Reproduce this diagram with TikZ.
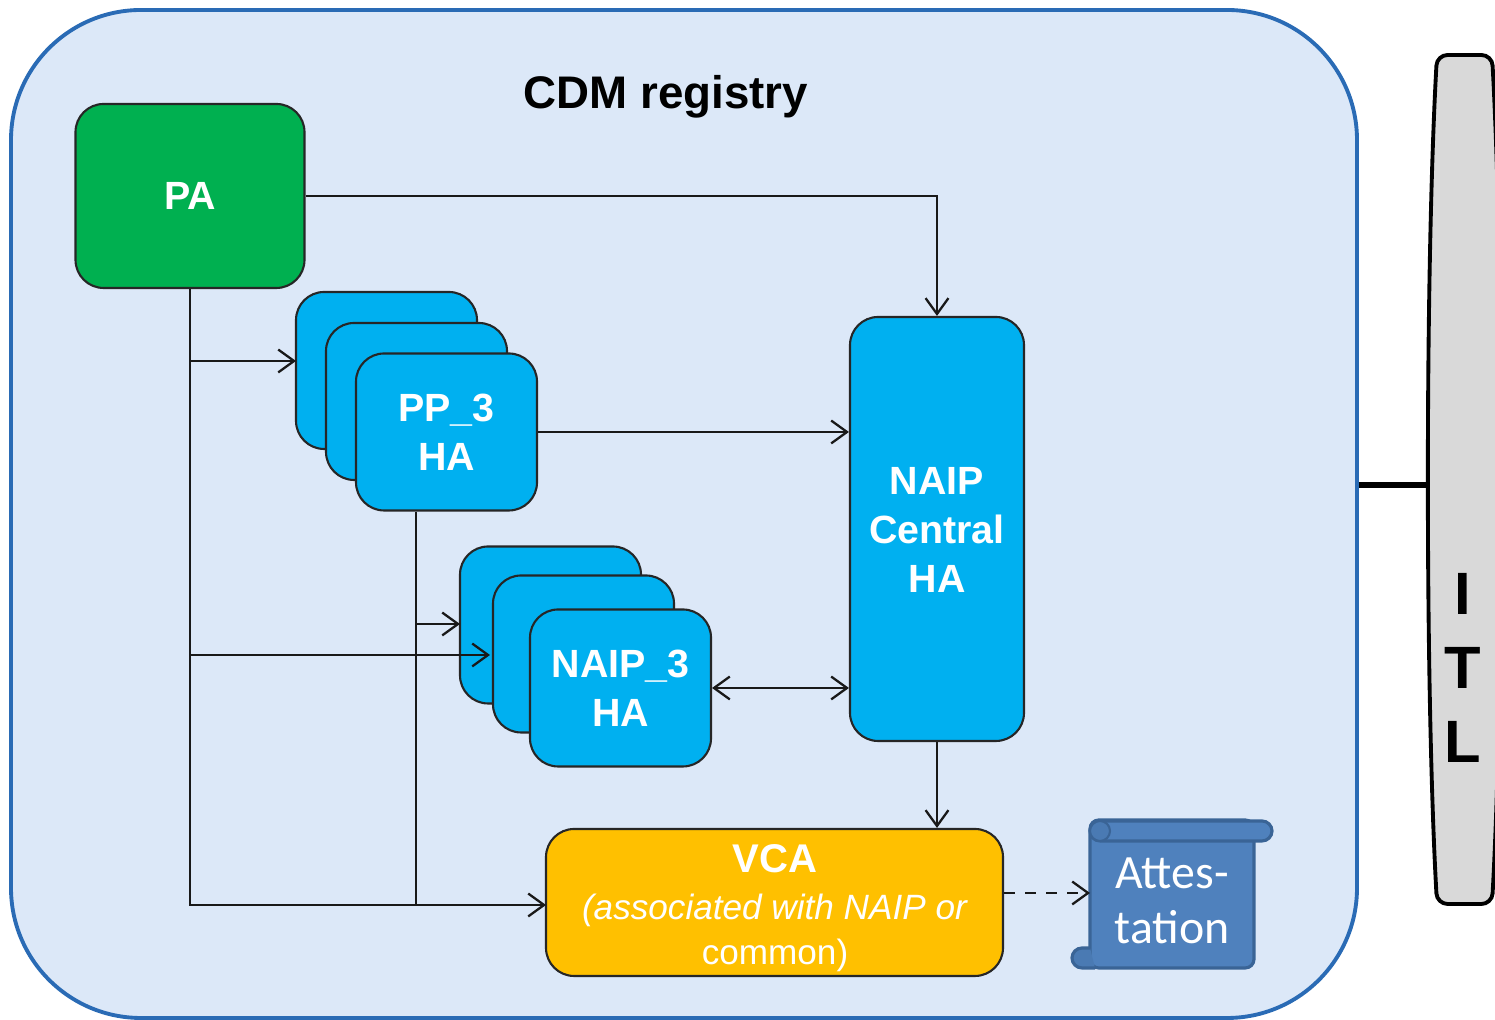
\documentclass[tikz,border=0pt]{standalone}
\usepackage{fontspec}
\setmainfont{Liberation Sans}
\newfontfamily\scrollfont{Carlito}
\usetikzlibrary{arrows.meta}
\definecolor{regfill}{HTML}{DCE8F8}
\definecolor{regline}{HTML}{2A6BB5}
\definecolor{pagreen}{HTML}{00B050}
\definecolor{habl}{HTML}{00B0F0}
\definecolor{vcaor}{HTML}{FFC000}
\definecolor{scrollbl}{HTML}{4F81BD}
\definecolor{scrollln}{HTML}{3A6496}
\definecolor{itlgr}{HTML}{D9D9D9}
\tikzset{
    box/.style={rectangle,draw=black!85,line width=0.6pt,rounded corners=8pt,inner sep=0pt,text=white,align=center,font=\fontsize{11.2}{14}\selectfont\bfseries},
    habox/.style={box,fill=habl,minimum width=1.81cm,minimum height=1.57cm},
    conn/.style={draw=black!90,line width=0.65pt,>={Straight Barb[length=4.5pt,width=6.5pt]}}
}
\begin{document}
\begin{tikzpicture}
    \useasboundingbox (0,0) rectangle (14.95,10.2);
    \node[rectangle,draw=regline,fill=regfill,line width=1.1pt,rounded corners=37pt,minimum width=13.46cm,minimum height=10.08cm] (registry) at (6.84,5.06) {};
    \node[font=\fontsize{13}{16}\selectfont\bfseries] (title) at (6.66,9.23) {CDM registry};
    % boxes
    \node[box,fill=pagreen,minimum width=2.29cm,minimum height=1.84cm] (PA) at (1.9,8.24) {PA};
    \node[habox] (PP1) at (3.865,6.495) {};
    \node[habox] (PP2) at (4.165,6.185) {};
    \node[habox] (PP3) at (4.465,5.88) {PP\_3\\HA};
    \node[habox] (NAIP1) at (5.505,3.95) {};
    \node[habox] (NAIP2) at (5.835,3.66) {};
    \node[habox] (NAIP3) at (6.205,3.32) {NAIP\_3\\HA};
    \node[box,fill=habl,minimum width=1.74cm,minimum height=4.24cm] (central) at (9.37,4.91) {};
    \node[font=\fontsize{11.2}{14}\selectfont\bfseries,text=white,align=center] (centraltxt) at (9.37,4.9) {NAIP\\Central\\HA};
    \node[box,fill=vcaor,minimum width=4.57cm,minimum height=1.47cm] (VCA) at (7.745,1.175) {};
    \node[text=white,align=center,inner sep=0pt,font=\fontsize{10}{12.8}\selectfont] (VCAtxt) at (7.75,1.115) {{\fontsize{11.4}{14}\selectfont\bfseries VCA}\\[0.6pt]\textit{(associated with NAIP or}\\common)};
    % scroll
    \draw[fill=scrollbl,draw=scrollln,line width=0.9pt,rounded corners=2.5pt] (10.9,2.0) -- (12.54,2.0) -- (12.54,0.52) -- (10.9,0.52) -- cycle;
    \draw[fill=scrollbl,draw=scrollln,line width=0.9pt] (11.0,1.79) -- (12.62,1.79) arc(-90:90:0.1) -- (11.0,1.99) arc(90:270:0.1);
    \draw[fill=scrollbl!75!scrollln,draw=scrollln,line width=0.6pt] (11.0,1.79) arc(-90:90:0.1) arc(90:270:0.1);
    \draw[fill=scrollbl!75!scrollln,draw=scrollln,line width=0.9pt] (10.9,0.72) -- (10.82,0.72) arc(90:270:0.1) -- (10.95,0.52);
    \node[rectangle,text=white,align=center,minimum width=1.64cm,minimum height=1.36cm,font=\fontsize{13.6}{15.7}\selectfont\scrollfont] (attest) at (11.72,1.19) {Attes-\\tation};
    % ITL bar
    \begin{scope}
        \clip (14,0) rectangle (14.95,10.2);
        \draw[fill=itlgr,draw=black,line width=1.1pt,rounded corners=3pt] (14.37,9.65) .. controls (14.25,7.5) and (14.25,3.3) .. (14.37,1.16) -- (14.92,1.16) .. controls (15.04,3.3) and (15.04,7.5) .. (14.92,9.65) -- cycle;
    \end{scope}
    \node[font=\fontsize{17}{21}\selectfont\bfseries,align=center] (ITL) at (14.63,3.52) {I\\T\\L};
    % free ends
    \coordinate (itlj) at (14.29,5.35);
    \coordinate (ppin) at (2.96,6.59);
    \coordinate (naipa) at (4.6,3.96);
    \coordinate (naipb) at (4.9,3.65);
    \coordinate (vcain) at (5.46,1.15);
    \coordinate (ppdown) at (4.16,1.15);
    \coordinate (scrollin) at (10.9,1.27);
    % connectors
    \draw[conn,->] (PA.east) -| (central.north);
    \draw[conn,->] (PA.south) |- (vcain);
    \draw[conn,->] (PA.south |- ppin) -- (ppin);
    \draw[conn,->] (PA.south |- naipb) -- (naipb);
    \draw[conn] (PP3.south -| ppdown) -- (ppdown);
    \draw[conn,->] (ppdown |- naipa) -- (naipa);
    \draw[conn,->] (PP3.east) -- (PP3.east -| central.west);
    \draw[conn,<->] (NAIP3.east) -- (NAIP3.east -| central.west);
    \draw[conn,->] (central.south) -- (central.south |- VCA.north);
    \draw[conn,->,dashed] (VCA.east |- scrollin) -- (scrollin);
    \draw[line width=1.5pt] (registry.east |- itlj) -- (itlj);
\end{tikzpicture}
\end{document}
